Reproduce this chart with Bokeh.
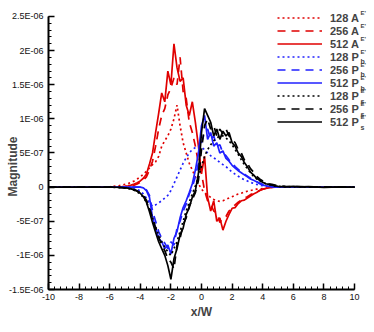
import numpy as np
from bokeh.plotting import figure
from bokeh.models import Legend, LegendItem, Label, FixedTicker, Range1d, LinearAxis
from bokeh.core.properties import value
from bokeh.embed import file_html
from bokeh.resources import INLINE

# sample positions x/W
x = ([-10.0, -9.0, -8.0, -7.0, -6.5]
     + [round(-6.0 + 0.2 * i, 1) for i in range(56)]
     + [5.5, 6.0, 6.5, 7.0, 8.0, 9.0, 10.0])

# values in units of 1E-07
A128 = [0, 0, 0, 0.02, 0.03,
        0.05, 0.1, 0.15, 0.2, 0.3, 0.4, 0.5, 0.7, 0.9, 1.2, 1.5, 1.9, 2.3, 2.8, 3.3, 3.7, 4.5, 6.0, 6.8, 7.5,
        8.5, 10.0, 12.0, 9.0, 6.5, 5.0, 3.5, 2.5, 1.5, 0.5, -0.3, -0.8, -1.2, -1.5, -1.8, -2.0, -2.1, -2.0,
        -1.8, -1.6, -1.4, -1.2, -1.0, -0.9, -0.7, -0.6, -0.5, -0.4, -0.3, -0.25, -0.2, -0.15, -0.1, -0.05, 0, 0,
        0, 0, 0, 0, 0, 0, 0]
A256 = [0, 0, 0, 0, 0,
        0, 0, 0.01, 0.03, 0.05, 0.08, 0.12, 0.2, 0.3, 0.45, 0.7, 1.0, 1.5, 2.5, 3.8, 6.0, 8.5, 10.5, 11.5, 13.5,
        14.5, 16.0, 15.0, 19.0, 14.0, 13.0, 9.5, 8.0, 6.0, 3.5, 2.0, -0.5, -2.0, -2.5, -3.5, -3.8, -5.2, -4.5,
        -4.3, -3.5, -3.0, -2.6, -2.2, -1.9, -1.6, -1.4, -1.1, -0.9, -0.7, -0.5, -0.3, -0.2, -0.1, -0.05, 0, 0,
        0, 0, 0, 0, 0, 0, 0]
A512 = [0, 0, 0, 0, 0,
        0, 0, 0.02, 0.05, 0.08, 0.12, 0.2, 0.3, 0.45, 0.65, 0.9, 1.3, 1.9, 3.4, 5.0, 8.0, 10.8, 13.8, 12.5, 17.0,
        15.0, 21.0, 17.5, 15.5, 16.0, 12.0, 10.5, 12.5, 9.5, 6.0, 2.0, 4.5, -1.5, -3.5, -2.0, -5.0, -4.5, -6.3,
        -5.0, -4.0, -3.1, -3.0, -2.4, -2.0, -1.9, -1.6, -1.3, -1.0, -0.8, -0.5, -0.3, -0.2, -0.1, 0, 0, 0,
        0, 0, 0, 0, 0, 0, 0]
Pb128 = [0, 0, 0, 0, 0,
         0, 0, 0, 0, 0, 0, 0, 0, -0.1, -0.3, -0.6, -1.0, -1.6, -2.3, -2.8, -2.6, -2.3, -2.0, -1.6, -1.2,
         -0.5, 0.5, 1.5, 2.5, 3.5, 4.3, 5.0, 5.5, 5.8, 6.0, 5.8, 5.5, 5.0, 4.6, 4.3, 4.0, 3.6, 3.3,
         3.0, 2.6, 2.2, 1.9, 1.6, 1.3, 1.1, 0.9, 0.7, 0.55, 0.4, 0.3, 0.2, 0.15, 0.1, 0.05, 0, 0,
         0, 0, 0, 0, 0, 0, 0]
Pb256 = [0, 0, 0, 0, 0,
         0, 0, 0, 0, 0, 0, 0, 0, 0, 0, 0, -0.1, -0.4, -1.2, -3.5, -5.0, -6.5, -7.5, -8.2, -9.0,
         -8.0, -8.5, -6.0, -5.0, -3.5, -2.5, -1.0, 0.0, 1.5, 3.5, 6.5, 8.0, 8.5, 7.0, 7.5, 6.0, 6.2, 5.0,
         4.6, 4.0, 3.5, 3.0, 2.6, 2.2, 1.9, 1.6, 1.3, 1.0, 0.8, 0.6, 0.4, 0.25, 0.15, 0.1, 0.05, 0,
         0, 0, 0, 0, 0, 0, 0]
Pb512 = [0, 0, 0, 0, 0,
         0, 0, 0, 0, 0, 0, 0, 0, 0, 0, 0, -0.1, -0.5, -1.5, -4.5, -6.0, -7.5, -8.0, -9.0, -8.5,
         -9.8, -7.5, -6.5, -4.5, -3.0, -2.0, -0.8, 0.5, 2.5, 5.0, 9.0, 10.5, 7.0, 8.0, 6.0, 6.5, 5.0, 5.3,
         4.2, 3.8, 3.2, 2.8, 2.4, 2.1, 1.8, 1.5, 1.2, 1.0, 0.8, 0.5, 0.3, 0.2, 0.1, 0.05, 0, 0,
         0, 0, 0, 0, 0, 0, 0]
Ps128 = [0, 0, 0, 0, 0,
         0, -0.02, -0.04, -0.06, -0.1, -0.15, -0.2, -0.3, -0.45, -0.7, -1.0, -1.5, -2.2, -3.2, -4.5, -5.8, -7.0, -8.0, -8.8, -9.5,
         -10.0, -9.0, -8.0, -6.5, -5.0, -3.5, -2.2, -1.0, 0.2, 1.5, 3.0, 4.5, 5.5, 6.2, 6.8, 7.2, 7.5, 7.5,
         7.2, 6.8, 6.2, 5.5, 4.8, 4.0, 3.3, 2.7, 2.1, 1.6, 1.2, 0.9, 0.7, 0.5, 0.35, 0.25, 0.15, 0.1,
         0.05, 0.03, 0.02, 0.0, 0.02, -0.01, 0]
Ps256 = [0, 0, 0, 0, 0,
         0, 0, -0.02, -0.04, -0.07, -0.1, -0.15, -0.25, -0.35, -0.55, -0.8, -1.2, -1.9, -3.0, -4.6, -6.0, -7.3, -8.5, -9.3, -10.5,
         -11.0, -12.0, -8.5, -7.5, -5.5, -4.5, -2.8, -1.8, -0.8, 1.0, 5.5, 9.0, 10.0, 8.5, 9.0, 7.5, 8.5, 7.8,
         8.5, 7.5, 7.0, 6.5, 5.5, 5.0, 4.0, 3.5, 2.7, 2.2, 1.6, 1.2, 0.9, 0.7, 0.5, 0.4, 0.3, 0.2,
         0.1, 0.05, 0.08, 0.02, 0.04, -0.02, 0]
Ps512 = [0, 0, 0, 0, 0,
         0, 0, -0.02, -0.04, -0.06, -0.1, -0.15, -0.25, -0.4, -0.6, -0.9, -1.4, -2.2, -3.6, -5.2, -6.6, -8.0, -9.0, -10.0, -11.5,
         -13.5, -10.5, -9.0, -7.0, -6.0, -4.0, -3.0, -1.5, -0.5, 2.0, 8.0, 11.5, 10.5, 9.5, 7.5, 8.5, 7.0, 8.2,
         7.5, 8.0, 6.5, 6.0, 5.0, 4.5, 3.6, 3.0, 2.2, 1.8, 1.3, 1.0, 0.7, 0.5, 0.4, 0.3, 0.2, 0.1,
         0.05, 0.1, 0.03, 0.06, -0.03, 0.04, 0]

y_ticks = [-15, -10, -5, 0, 5, 10, 15, 20, 25]
y_tick_labels = ["-1.5E-06", "-1E-06", "-5E-07", "0", "5E-07", "1E-06", "1.5E-06", "2E-06", "2.5E-06"]
x_ticks = [-10, -8, -6, -4, -2, 0, 2, 4, 6, 8, 10]
x_tick_labels = ["-10", "-8", "-6", "-4", "-2", "0", "2", "4", "6", "8", "10"]

RED, BLUE, BLACK = "#e00000", "#2020ff", "#000000"
series = [
    ("128 A", A128, RED, "2 3", "sup"),
    ("256 A", A256, RED, "8 6", "sup"),
    ("512 A", A512, RED, "solid", "sup"),
    ("128 P", Pb128, BLUE, "2 3", "b"),
    ("256 P", Pb256, BLUE, "8 6", "b"),
    ("512 P", Pb512, BLUE, "solid", "b"),
    ("128 P", Ps128, BLACK, "2 3", "s"),
    ("256 P", Ps256, BLACK, "8 6", "s"),
    ("512 P", Ps512, BLACK, "solid", "s"),
]

X0, X1 = x_ticks[0], x_ticks[-1]
Y0, Y1 = y_ticks[0], y_ticks[-1]
x_minor = [round(X0 + 0.4 * k, 1) for k in range(51)]
y_minor = [v for v in range(Y0, Y1 + 1)]

# the frame covers almost the whole canvas; the axes sit at fixed data locations inside it
p = figure(width=371, height=326, x_range=Range1d(-12.81, 10.98), y_range=Range1d(-19.54, 26.9),
           output_backend="svg", toolbar_location=None,
           min_border_left=5, min_border_right=2, min_border_top=3, min_border_bottom=6)
p.outline_line_color = None
p.grid.visible = False


def style_axis(ax, ticks, tick_len, tick_width, loc, bounds, draw_line):
    # only "minor" ticks are used, so the axes draw no label texts of their own
    ax.ticker = FixedTicker(ticks=[], minor_ticks=ticks)
    ax.fixed_location = loc
    ax.bounds = bounds
    ax.axis_line_width = 2
    ax.axis_line_color = "black" if draw_line else None
    ax.major_tick_in = 0
    ax.major_tick_out = 0
    ax.minor_tick_in = tick_len
    ax.minor_tick_out = 0
    ax.minor_tick_line_width = tick_width
    ax.minor_tick_line_color = "black"
    ax.major_label_standoff = 0


style_axis(p.xaxis[0], x_minor, 3, 1, Y0, (X0, X1), True)
style_axis(p.yaxis[0], y_minor, 3, 1, X0, (Y0, Y1), True)
x_major_axis = LinearAxis()
y_major_axis = LinearAxis()
style_axis(x_major_axis, x_ticks, 6, 1.5, Y0, (X0, X1), False)
style_axis(y_major_axis, y_ticks, 6, 1.5, X0, (Y0, Y1), False)
p.add_layout(x_major_axis, "below")
p.add_layout(y_major_axis, "left")

FONT = value("Liberation Sans")
p.text(x=[X0] * len(y_ticks), y=y_ticks, text=y_tick_labels, x_offset=-5,
       text_align="right", text_baseline="middle", text_font=FONT, text_font_size="9px",
       text_color="#111111")
p.text(x=x_ticks, y=[Y0] * len(x_ticks), text=x_tick_labels, y_offset=4,
       text_align="center", text_baseline="top", text_font=FONT, text_font_size="9px",
       text_color="#111111")

# axis titles (frame starts at page x 6, bottom at page y 322)
p.add_layout(Label(x=7, y=154, x_units="screen", y_units="screen", text="Magnitude", angle=np.pi / 2,
                   text_font="Liberation Sans", text_font_style="bold", text_font_size="12px",
                   text_align="center", text_baseline="middle"))
p.add_layout(Label(x=196, y=9, x_units="screen", y_units="screen", text="x/W",
                   text_font="Liberation Sans", text_font_style="bold", text_font_size="12px",
                   text_align="center", text_baseline="middle"))

items = []
for name, vals, col, dash, kind in series:
    r = p.line(x, vals, line_color=col, line_width=1.7, line_dash=dash)
    items.append(LegendItem(label=name, renderers=[r]))

legend = Legend(items=items, location=(272, 192))
legend.glyph_width = 45
legend.glyph_height = 13
legend.label_height = 13
legend.label_standoff = 8
legend.spacing = 0
legend.padding = 0
legend.margin = 0
legend.border_line_color = None
legend.background_fill_alpha = 0
legend.label_text_font = "Liberation Sans"
legend.label_text_font_style = "bold"
legend.label_text_font_size = "11px"
p.add_layout(legend)

# superscripts / subscripts of legend labels
for i, (name, vals, col, dash, kind) in enumerate(series):
    yc = 322 - (18.5 + 13.1 * i)
    p.add_layout(Label(x=355, y=yc + 1.5, x_units="screen", y_units="screen", text="E'",
                       text_font="Liberation Sans", text_font_style="bold", text_font_size="6px",
                       text_baseline="bottom", text_align="left"))
    if kind != "sup":
        p.add_layout(Label(x=355, y=yc - 2, x_units="screen", y_units="screen", text=kind,
                           text_font="Liberation Sans", text_font_style="bold", text_font_size="7px",
                           text_baseline="top", text_align="left"))

open("out.html", "w").write(file_html(p, INLINE))
